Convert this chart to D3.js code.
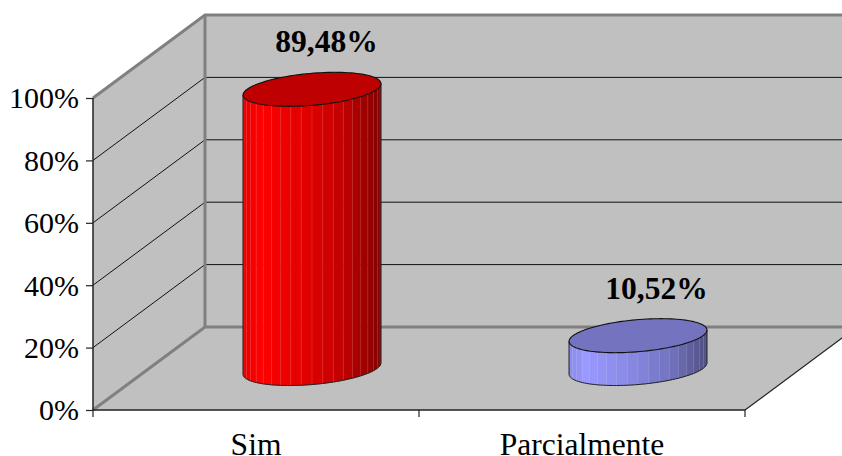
<!DOCTYPE html>
<html>
<head>
<meta charset="utf-8">
<script src="https://cdn.jsdelivr.net/npm/d3@7/dist/d3.min.js"></script>
<style>
html, body { margin: 0; padding: 0; background: #fff; }
svg { display: block; }
svg text { font-family: "Liberation Serif", serif; }
.domain { display: none; }
</style>
</head>
<body>
<svg id="chart" width="842" height="456"></svg>
<script>
const categories = ["Sim", "Parcialmente"];
const values = [89.48, 10.52];
const yTicks = [0, 20, 40, 60, 80, 100];
const baseColors = [[255, 0, 0], [153, 153, 255]];
const labelShift = [14.5, 18.5];

const svg = d3.select("#chart");
const x = d3.scaleBand().domain(categories).range([93, 745]);
const y = d3.scaleLinear().domain([0, 100]).range([410, 98]);

// Oblique projection: depth runs from the front plane (0) to the back wall (1)
const DEPTH_X = 112, DEPTH_Y = -83;
const project = (px, py, depth) => [px + DEPTH_X * depth, py + DEPTH_Y * depth];

const WALL = "#c0c0c0", EDGE = "#808080";
const right = x.range()[1], top100 = y(100), base = y(0);

// Walls and floor
const poly = pts => "M" + pts.map(p => p.join(",")).join("L") + "Z";
svg.append("path").attr("fill", WALL)
  .attr("d", poly([project(93, base, 1), project(right, base, 1), project(right, top100, 1), project(93, top100, 1)]));
svg.append("path").attr("fill", WALL)
  .attr("d", poly([[93, base], project(93, base, 1), project(93, top100, 1), [93, top100]]));
svg.append("path").attr("fill", WALL)
  .attr("d", poly([[93, base], [right, base], project(right, base, 1), project(93, base, 1)]));

// Gridlines across the side and back walls
yTicks.filter(t => t > 0 && t < 100).forEach(t => {
  svg.append("path").attr("fill", "none").attr("stroke", "#111").attr("stroke-width", 1)
    .attr("d", d3.line()([[93, y(t)], project(93, y(t), 1), project(right, y(t), 1)]));
});

// Thick wall edges
svg.append("path").attr("fill", "none").attr("stroke", EDGE).attr("stroke-width", 3)
  .attr("d", d3.line()([project(right, top100, 1), project(93, top100, 1), [93, top100]]));
svg.append("path").attr("fill", "none").attr("stroke", EDGE).attr("stroke-width", 3)
  .attr("d", d3.line()([project(93, top100, 1), project(93, base, 1)]));
svg.append("path").attr("fill", "none").attr("stroke", EDGE).attr("stroke-width", 3)
  .attr("d", d3.line()([[93, base], project(93, base, 1), project(right, base, 1)]));

// Front edge of the floor
svg.append("path").attr("fill", "none").attr("stroke", "#222").attr("stroke-width", 1.2)
  .attr("d", d3.line()([[right, base], project(right, base, 1)]));

// Axes
const yAxis = svg.append("g").attr("transform", "translate(93,0)")
  .call(d3.axisLeft(y).tickValues(yTicks).tickFormat(d => d + "%").tickSize(7).tickPadding(7));
yAxis.selectAll("line").attr("stroke", "#222").attr("stroke-width", 1.2);
yAxis.selectAll("text").attr("font-size", 30).attr("fill", "#000").attr("dy", "0.33em");

const xAxis = svg.append("g").attr("transform", `translate(0,${base})`)
  .call(d3.axisBottom(x).tickSize(0).tickPadding(23));
xAxis.selectAll("text").attr("font-size", 31.5).attr("fill", "#000");

svg.append("path").attr("fill", "none").attr("stroke", "#222").attr("stroke-width", 1.5)
  .attr("d", d3.line()([[93, top100], [93, base], [right, base]]));
[0, 1, 2].forEach(i => {
  const px = x.range()[0] + i * x.step();
  svg.append("line").attr("x1", px).attr("x2", px).attr("y1", base).attr("y2", base + 7)
    .attr("stroke", "#222").attr("stroke-width", 1.2);
});

// Cylinders: a circle on the floor plane seen through the oblique projection
const RADIUS_X = 65, RADIUS_DEPTH = 0.205, STRIPS = 20;
const extremeAngle = Math.atan2(RADIUS_DEPTH * DEPTH_X, RADIUS_X);

const rgb = (c, k) => `rgb(${c.map(v => Math.round(v * k)).join(",")})`;

// Side brightness by position across the visible face (0 = left, 1 = right)
const shade = d3.scaleLinear().domain([0, 0.12, 0.5, 0.75, 1]).range([0.9, 1, 0.87, 0.74, 0.52]);

categories.forEach((cat, i) => {
  const cx = x(cat) + x.bandwidth() / 2;
  const ring = (value, a) => project(
    cx + RADIUS_X * Math.cos(a),
    y(value),
    0.5 + RADIUS_DEPTH * Math.sin(a)
  );
  const g = svg.append("g");
  const v = values[i], c = baseColors[i];

  // Visible half of the side runs from the left silhouette round the front to the right one
  const aLeft = Math.PI + extremeAngle;
  const aRight = 2 * Math.PI + extremeAngle;
  const angle = d3.scaleLinear().domain([0, STRIPS]).range([aLeft, aRight]);
  const arc = (value, a0, a1, n) => d3.range(n + 1).map(k => ring(value, a0 + (a1 - a0) * k / n));

  d3.range(STRIPS).forEach(k => {
    const a0 = angle(k), a1 = angle(k + 1);
    const mid = ring(0, (a0 + a1) / 2)[0];
    const frac = (mid - ring(0, aLeft)[0]) / (ring(0, aRight)[0] - ring(0, aLeft)[0]);
    const fill = rgb(c, shade(frac));
    const bottom = arc(0, a0, a1, 6);
    const topEdge = arc(v, a1, a0, 6);
    g.append("path").attr("fill", fill).attr("stroke", fill).attr("stroke-width", 0.5)
      .attr("d", poly(bottom.concat(topEdge)));
    if (k > 0) {
      // Faint seam between neighbouring strips
      g.append("path").attr("stroke", "#fff").attr("stroke-opacity", 0.13).attr("stroke-width", 1)
        .attr("d", d3.line()([ring(0, a0), ring(v, a0)]));
    }
  });

  // Outline of the side
  const outline = arc(0, aLeft, aRight, 60);
  g.append("path").attr("fill", "none").attr("stroke", "#222").attr("stroke-width", 1)
    .attr("d", d3.line()([ring(v, aLeft), ...outline, ring(v, aRight)]));

  // Top cap
  const cap = arc(v, 0, 2 * Math.PI, 120);
  g.append("path").attr("fill", rgb(c, 0.75)).attr("stroke", "#111").attr("stroke-width", 1.1)
    .attr("d", poly(cap));

  // Value label
  const [lx, ly] = project(cx, y(v), 0.5);
  svg.append("text")
    .attr("x", lx + labelShift[i]).attr("y", ly - 37)
    .attr("text-anchor", "middle")
    .attr("font-size", 31.5).attr("font-weight", "bold").attr("fill", "#000")
    .text(v.toFixed(2).replace(".", ",") + "%");
});
</script>
</body>
</html>
